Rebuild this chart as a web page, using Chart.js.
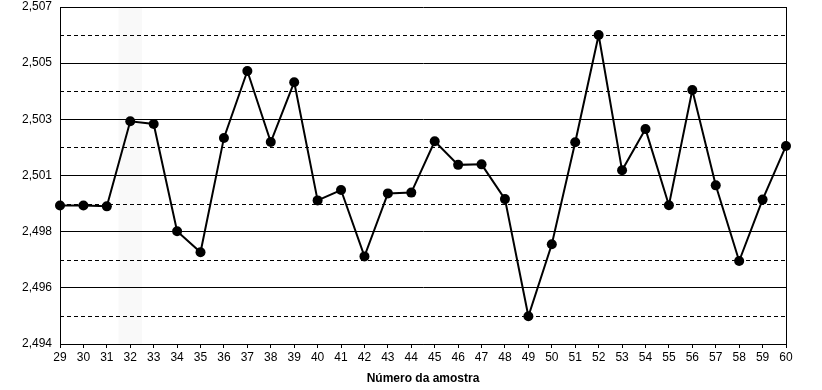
<!DOCTYPE html>
<html>
<head>
<meta charset="utf-8">
<script src="https://cdn.jsdelivr.net/npm/chart.js@4"></script>
<style>
  html, body { margin: 0; padding: 0; background: #fff; }
  #wrap { width: 822px; height: 390px; }
</style>
</head>
<body>
<div id="wrap"><canvas id="chart" width="822" height="390"></canvas></div>
<script>
// samples 29..60
var samples = ['29','30','31','32','33','34','35','36','37','38','39','40','41','42','43','44',
               '45','46','47','48','49','50','51','52','53','54','55','56','57','58','59','60'];
var values = [2.49934, 2.49934, 2.49931, 2.50259, 2.50249, 2.49835, 2.49754, 2.50195,
              2.50453, 2.50179, 2.50410, 2.49954, 2.49994, 2.49738, 2.49981, 2.49984,
              2.50182, 2.50091, 2.50093, 2.49959, 2.49507, 2.49785, 2.50178, 2.50592,
              2.50070, 2.50229, 2.49935, 2.50380, 2.50012, 2.49720, 2.49957, 2.50164];
var yMin = 2.494;
var yMax = 2.507;
var yTickLabels = ['2,494', '2,496', '2,498', '2,501', '2,503', '2,505', '2,507'];
var highlightSample = '32';

var FONT = 'Arial, "Liberation Sans", sans-serif';
var nSteps = (yTickLabels.length - 1) * 2;

// light band behind one sample + frame + dashed minor lines
var decor = {
    id: 'decor',
    beforeDraw: function (chart) {
        var ctx = chart.ctx, a = chart.chartArea, x = chart.scales.x;
        var i = samples.indexOf(highlightSample);
        var step = x.getPixelForValue(1) - x.getPixelForValue(0);
        var cx = x.getPixelForValue(i);
        ctx.save();
        ctx.fillStyle = '#f9f9f9';
        ctx.fillRect(cx - step / 2, a.top, step, a.bottom - a.top);
        ctx.restore();
    },
    beforeDatasetsDraw: function (chart) {
        var ctx = chart.ctx, a = chart.chartArea, y = chart.scales.y;
        ctx.save();
        ctx.strokeStyle = '#000';
        ctx.lineWidth = 1;
        ctx.setLineDash([4, 3]);
        y.ticks.forEach(function (t, i) {
            if (i % 2 === 1) {
                var py = Math.round(y.getPixelForValue(t.value)) + 0.5;
                ctx.beginPath();
                ctx.moveTo(a.left, py);
                ctx.lineTo(a.right, py);
                ctx.stroke();
            }
        });
        ctx.setLineDash([]);
        ctx.beginPath();
        ctx.moveTo(Math.round(a.right) + 0.5, a.top);
        ctx.lineTo(Math.round(a.right) + 0.5, a.bottom);
        ctx.stroke();
        ctx.restore();
    }
};

new Chart(document.getElementById('chart'), {
    type: 'line',
    data: {
        labels: samples,
        datasets: [{
            data: values,
            borderColor: '#000',
            backgroundColor: '#000',
            borderWidth: 2,
            pointRadius: 5,
            pointHoverRadius: 5,
            pointBackgroundColor: '#000',
            pointBorderWidth: 0,
            tension: 0
        }]
    },
    options: {
        responsive: false,
        animation: false,
        events: [],
        layout: { padding: { top: 7, right: 36, left: 0, bottom: 0 }, autoPadding: false },
        plugins: { legend: { display: false }, tooltip: { enabled: false } },
        scales: {
            x: {
                offset: false,
                grid: { drawOnChartArea: false, drawTicks: true, tickLength: 4, color: '#000' },
                border: { color: '#000', width: 1 },
                ticks: { color: '#000', font: { family: FONT, size: 12 }, padding: 2, maxRotation: 0, autoSkip: false },
                title: {
                    display: true,
                    text: 'Número da amostra',
                    color: '#000',
                    font: { family: FONT, size: 12, weight: 'bold' },
                    padding: { top: 2, bottom: 4 }
                },
                afterFit: function (s) { s.height = 46; s.paddingLeft = 0; s.paddingRight = 0; }
            },
            y: {
                min: yMin,
                max: yMax,
                afterBuildTicks: function (s) {
                    var t = [];
                    for (var i = 0; i <= nSteps; i++) t.push({ value: yMin + (yMax - yMin) * i / nSteps });
                    s.ticks = t;
                },
                grid: {
                    drawTicks: false,
                    color: function (c) { return c.index % 2 === 0 ? '#000' : 'rgba(0,0,0,0)'; },
                    lineWidth: 1
                },
                border: { color: '#000', width: 1 },
                ticks: {
                    color: '#000',
                    font: { family: FONT, size: 12 },
                    padding: 8,
                    autoSkip: false,
                    callback: function (v, i) { return i % 2 === 0 ? yTickLabels[i / 2] : ''; }
                },
                afterFit: function (s) { s.width = 60; s.paddingTop = 0; s.paddingBottom = 0; }
            }
        }
    },
    plugins: [decor]
});
</script>
</body>
</html>
